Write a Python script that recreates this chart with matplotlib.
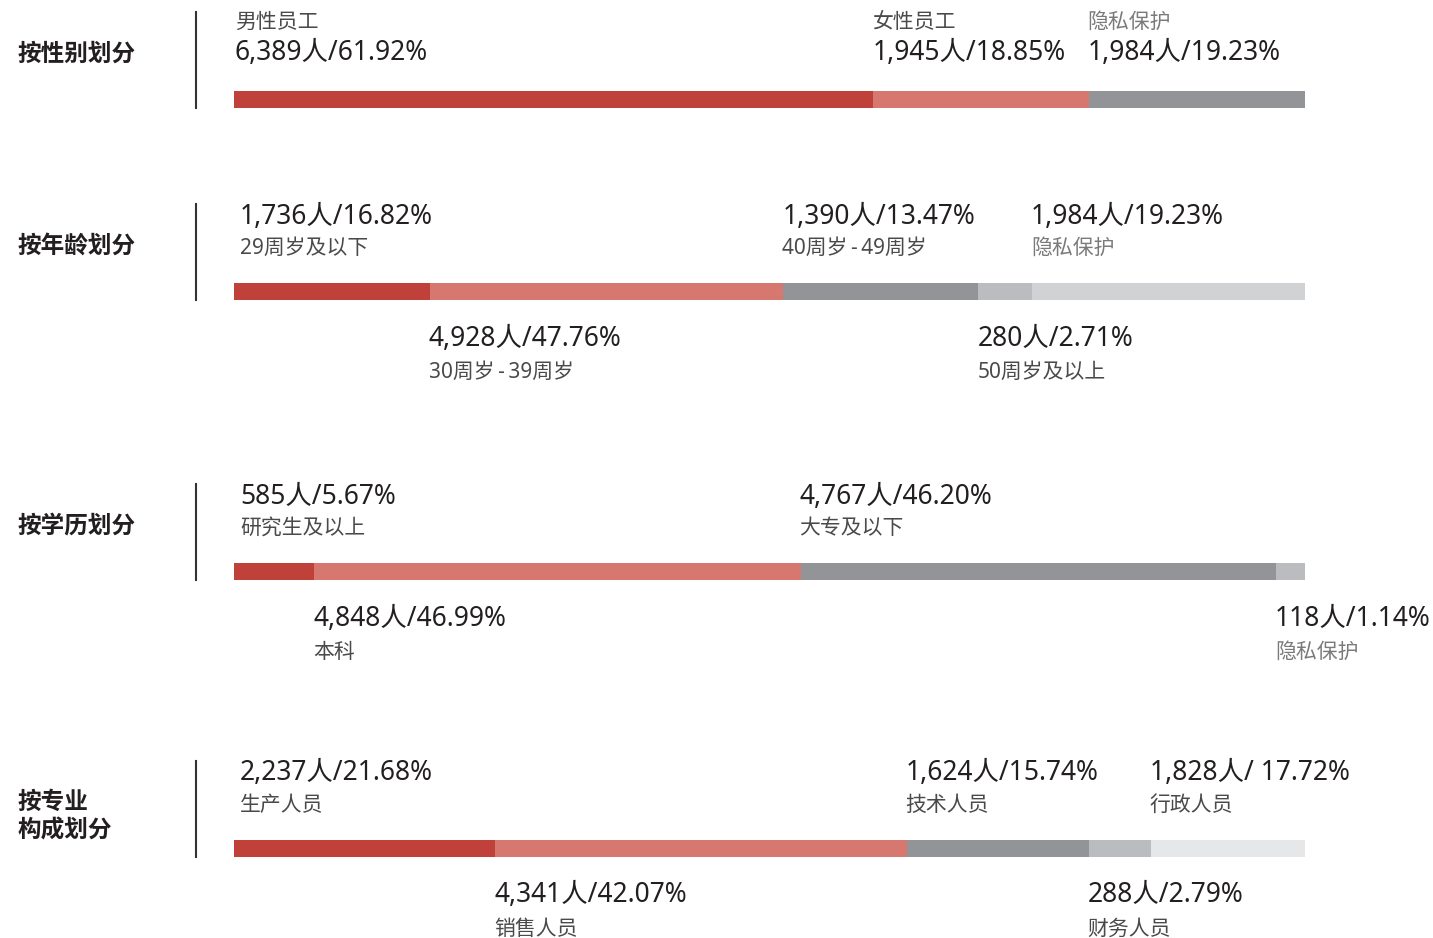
import matplotlib.pyplot as plt

plt.rcParams['font.family'] = ['Noto Sans', 'Noto Sans CJK SC', 'DejaVu Sans']

# row titles
titles = ["按性别划分", "按年龄划分", "按学历划分", "按专业\n构成划分"]

# segment names and value labels per row
names = [
    ["男性员工", "女性员工", "隐私保护"],
    ["29周岁及以下", "30周岁-39周岁", "40周岁-49周岁", "50周岁及以上", "隐私保护"],
    ["研究生及以上", "本科", "大专及以下", "隐私保护"],
    ["生产人员", "销售人员", "技术人员", "财务人员", "行政人员"],
]
values = [
    ["6,389人/61.92%", "1,945人/18.85%", "1,984人/19.23%"],
    ["1,736人/16.82%", "4,928人/47.76%", "1,390人/13.47%", "280人/2.71%", "1,984人/19.23%"],
    ["585人/5.67%", "4,848人/46.99%", "4,767人/46.20%", "118人/1.14%"],
    ["2,237人/21.68%", "4,341人/42.07%", "1,624人/15.74%", "288人/2.79%", "1,828人/ 17.72%"],
]
# drawn bar lengths (share of full bar width)
widths = [
    [59.7, 20.1, 20.2],
    [18.3, 33.0, 18.2, 5.0, 25.5],
    [7.5, 45.4, 44.4, 2.7],
    [24.4, 38.4, 17.0, 5.8, 14.4],
]
# which labels sit below the bar
below = [
    [False, False, False],
    [False, True, False, True, False],
    [False, True, False, True],
    [False, True, False, True, False],
]

palette = ["#c0403a", "#d77870", "#939498", "#bbbcc0", "#d1d2d4"]
palette4 = ["#c0403a", "#d77870", "#939498", "#bbbcc0", "#e6e7e8"]

W, H = 1433, 938
bar_left, bar_w = 234, 1071
row_y = [99.5, 291.5, 571.5, 848.5]
bar_h = 17.5

fig = plt.figure(figsize=(W / 100, H / 100), dpi=100)
ax = fig.add_axes([0, 0, 1, 1])
ax.set_xlim(0, W)
ax.set_ylim(H, 0)
ax.axis("off")

# bars axis: x in percent of bar width
bx = fig.add_axes([bar_left / W, 0, bar_w / W, 1])
bx.set_xlim(0, 100)
bx.set_ylim(H, 0)
bx.axis("off")

dark = "#231f20"
big, small = 19, 15
for r in range(4):
    y = row_y[r]
    cols = palette4 if r == 3 else palette
    left = 0
    for i, w in enumerate(widths[r]):
        bx.barh(y, w, left=left, height=bar_h, color=cols[i], linewidth=0)
        px = bar_left + left / 100 * bar_w - 1
        if i == 0:
            px += 2 if r == 0 else 7
        name = names[r][i].replace("-", "\u2009-\u2009")
        small_col = "#7a7a7a" if name == "隐私保护" else "#4a4a4a"
        if r == 0:
            ax.text(px, y - 77, name, fontsize=small, color=small_col,
                    va="center", ha="left")
            ax.text(px, y - 47, values[r][i], fontsize=big, color=dark,
                    va="center", ha="left")
        elif below[r][i]:
            ax.text(px, y + 47, values[r][i], fontsize=big, color=dark,
                    va="center", ha="left")
            ax.text(px, y + 81, name, fontsize=small, color=small_col,
                    va="center", ha="left")
        else:
            ax.text(px, y - 75, values[r][i], fontsize=big, color=dark,
                    va="center", ha="left")
            ax.text(px, y - 43, name, fontsize=small, color=small_col,
                    va="center", ha="left")
        left += w

    # divider and title
    bottom = y + bar_h / 2
    ax.plot([196, 196], [bottom - 96, bottom], color="#333333", lw=1.5)
    if "\n" in titles[r]:
        ax.text(18, y - 32, titles[r], fontsize=17, fontweight="bold",
                color=dark, va="center", ha="left", linespacing=1.25,
                family="Noto Sans CJK SC")
    else:
        ax.text(18, y - 46, titles[r], fontsize=17, fontweight="bold",
                color=dark, va="center", ha="left", family="Noto Sans CJK SC")

fig.savefig("out.png", dpi=100)
